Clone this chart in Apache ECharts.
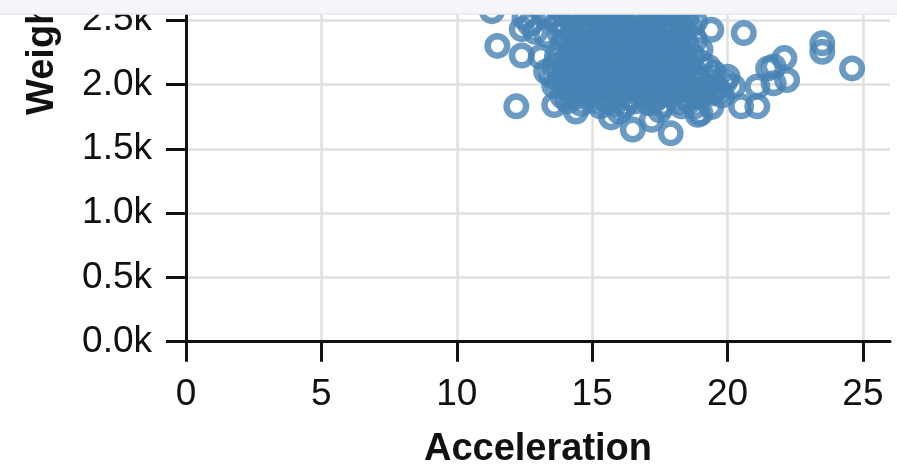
<!DOCTYPE html>
<html>
<head>
<meta charset="utf-8">
<script src="https://cdn.jsdelivr.net/npm/echarts@6/dist/echarts.min.js"></script>
<style>
html,body{margin:0;padding:0;background:#fff;}
#chart{width:897px;height:469px;}
</style>
</head>
<body>
<div id="chart"></div>
<script>
// Acceleration values (x) and Weight values (y)
var acceleration = [
  11.3, 11.5, 12.4, 12.2, 13.6, 14.4, 15.3, 16.5, 17.9, 18.3, 19.0, 20.6, 20.2, 21.1, 20.5, 21.1, 21.5, 22.1, 22.2, 23.5, 23.5, 24.6,
  12.4, 12.9, 13.3, 13.1, 13.3, 12.7, 12.5,
  13.2, 13.8, 14.3, 14.9, 15.5, 16.0, 16.6, 17.1, 17.7, 18.2,
  13.7, 14.2, 14.7, 15.2, 15.7, 16.2, 16.7, 17.2, 17.7, 18.3, 18.8,
  13.8, 14.3, 14.8, 15.3, 15.8, 16.3, 16.8, 17.3, 17.8, 18.4, 19.4,
  13.9, 14.4, 14.9, 15.4, 15.9, 16.4, 16.9, 17.4, 17.9, 18.5, 19.0,
  13.7, 14.2, 14.7, 15.2, 15.7, 16.2, 16.7, 17.2, 17.7, 18.2, 18.7,
  13.6, 14.0, 14.5, 15.0, 15.5, 16.0, 16.5, 17.0, 17.5, 18.0, 18.5, 19.3,
  13.5, 13.9, 14.4, 14.9, 15.4, 15.9, 16.4, 16.9, 17.4, 17.9, 18.4, 18.9, 19.4,
  13.6, 14.1, 14.6, 15.1, 15.6, 16.1, 16.6, 17.1, 17.6, 18.1, 18.6, 19.1, 19.6,
  13.9, 14.4, 14.9, 15.4, 15.9, 16.4, 16.9, 17.4, 17.9, 18.4, 18.9, 19.4, 19.8,
  14.6, 15.8, 16.2, 17.1, 17.6, 18.8, 19.4,
  15.7, 17.2, 17.5, 18.9, 16.0,
  20.0, 21.7, 21.7,
  13.5, 14.0, 14.5, 15.0, 15.5, 16.0, 16.5, 17.0, 17.5, 18.0, 18.5,
  14.0, 14.5, 15.0, 15.5, 16.0, 16.5, 17.0, 17.5, 18.0, 18.6,
  14.1, 14.6, 15.1, 15.6, 16.1, 16.6, 17.1, 17.6, 18.2, 18.8,
  14.2, 14.7, 15.2, 15.7, 16.2, 16.7, 17.2, 17.7, 18.3,
  14.0, 14.5, 15.0, 15.5, 16.0, 16.5, 17.0, 17.5, 18.0, 18.5, 19.0,
  13.8, 14.3, 14.8, 15.3, 15.8, 16.3, 16.8, 17.3, 17.8, 18.3, 18.8, 19.5,
  13.8, 14.4, 14.9, 15.4, 15.9, 16.4, 16.9, 17.4, 17.9, 18.4, 18.9, 19.4, 19.9,
  14.2, 14.7, 15.2, 15.7, 16.2, 16.7, 17.2, 17.7, 18.2, 18.7, 19.2, 19.7,
  14.1, 15.1, 15.6, 16.6, 17.3, 18.2, 18.6
];
var weight = [
  2570, 2300, 2225, 1830, 1840, 1790, 1830, 1650, 1620, 1830, 1775, 2400, 1985, 1985, 1830, 1830, 2125, 2205, 2035, 2320, 2255, 2125,
  2430, 2410, 2385, 2215, 2100, 2470, 2520,
  2560, 2590, 2575, 2600, 2565, 2585, 2570, 2595, 2560, 2580,
  2480, 2500, 2470, 2495, 2510, 2475, 2490, 2505, 2480, 2470, 2490,
  2400, 2390, 2415, 2385, 2405, 2395, 2410, 2380, 2400, 2420, 2425,
  2310, 2295, 2305, 2285, 2300, 2315, 2290, 2305, 2295, 2310, 2270,
  2220, 2230, 2210, 2225, 2215, 2235, 2205, 2220, 2230, 2210, 2225,
  2145, 2130, 2150, 2135, 2140, 2125, 2155, 2140, 2130, 2150, 2135, 2135,
  2065, 2055, 2070, 2050, 2065, 2060, 2045, 2070, 2055, 2065, 2050, 2060, 2050,
  1990, 1975, 1995, 1980, 1990, 1970, 1985, 1995, 1975, 1990, 1980, 1995, 1975,
  1910, 1900, 1915, 1895, 1905, 1890, 1910, 1900, 1915, 1895, 1905, 1930, 1915,
  1850, 1845, 1835, 1855, 1840, 1830, 1825,
  1745, 1725, 1800, 1765, 1790,
  2060, 2140, 2010,
  2535, 2540, 2530, 2545, 2525, 2540, 2535, 2530, 2545, 2535, 2525,
  2445, 2450, 2440, 2455, 2445, 2435, 2450, 2445, 2440, 2450,
  2350, 2345, 2355, 2340, 2350, 2360, 2345, 2350, 2355, 2345,
  2260, 2265, 2255, 2260, 2270, 2250, 2260, 2265, 2255,
  2180, 2175, 2185, 2180, 2170, 2185, 2180, 2175, 2190, 2180, 2175,
  2100, 2095, 2105, 2100, 2095, 2110, 2100, 2095, 2105, 2100, 2095, 2090,
  2020, 2025, 2015, 2020, 2030, 2015, 2020, 2025, 2015, 2020, 2025, 2015, 2020,
  1945, 1940, 1950, 1945, 1940, 1950, 1945, 1940, 1950, 1945, 1940, 1950,
  1870, 1875, 1865, 1870, 1875, 1865, 1870
];
var xTitle = 'Acceleration';
var yTitle = 'Weight';

var points = acceleration.map(function (a, i) { return [a, weight[i]]; });
var font = "'Liberation Sans', Arial, Helvetica, sans-serif";
var axisColor = '#111';

var chart = echarts.init(document.getElementById('chart'), null, {renderer: 'canvas'});
chart.setOption({
  animation: false,
  backgroundColor: '#fff',
  grid: {left: 186, right: 7, top: 14, bottom: 127.3, containLabel: false, outerBoundsMode: 'none'},
  xAxis: {
    type: 'value', min: 0, max: 26, interval: 5,
    name: xTitle, nameLocation: 'middle', nameGap: 89,
    nameTextStyle: {fontFamily: font, fontSize: 38, fontWeight: 'bold', color: axisColor},
    axisLine: {show: true, onZero: false, lineStyle: {color: axisColor, width: 3}},
    axisTick: {show: true, length: 20, lineStyle: {color: axisColor, width: 3}},
    axisLabel: {fontFamily: font, fontSize: 37, color: axisColor, margin: 35, showMinLabel: true, showMaxLabel: false, hideOverlap: false},
    splitLine: {show: true, showMaxLine: false, lineStyle: {color: '#e0e0e0', width: 2.5}}
  },
  yAxis: {
    type: 'value', min: 0, max: 2548, interval: 500,
    axisLine: {show: true, onZero: false, lineStyle: {color: axisColor, width: 3}},
    axisTick: {show: true, length: 20, lineStyle: {color: axisColor, width: 3}},
    axisLabel: {fontFamily: font, fontSize: 37, color: axisColor, margin: 34, showMinLabel: true, showMaxLabel: false, hideOverlap: false,
      formatter: function (v) { return (v / 1000).toFixed(1) + 'k'; }},
    splitLine: {show: true, showMaxLine: false, lineStyle: {color: '#e0e0e0', width: 2.5}}
  },
  series: [{
    type: 'scatter',
    data: points,
    symbol: 'circle',
    symbolSize: 19.5,
    clip: false,
    itemStyle: {color: 'rgba(0,0,0,0)', borderColor: '#4682b4', borderWidth: 6.5, opacity: 0.8}
  }],
  graphic: [
    {type: 'text', z: 150, x: 43, y: 52, rotation: Math.PI / 2,
      style: {text: yTitle, fontFamily: font, fontSize: 38, fontWeight: 'bold', fill: axisColor, align: 'center', verticalAlign: 'middle'}},
    {type: 'rect', z: 200, shape: {x: 0, y: 0, width: 897, height: 14}, style: {fill: '#f5f6f9'}},
    {type: 'line', z: 201, shape: {x1: 0, y1: 14, x2: 897, y2: 14}, style: {stroke: '#e6e8ec', lineWidth: 1.5}}
  ]
});
</script>
</body>
</html>
